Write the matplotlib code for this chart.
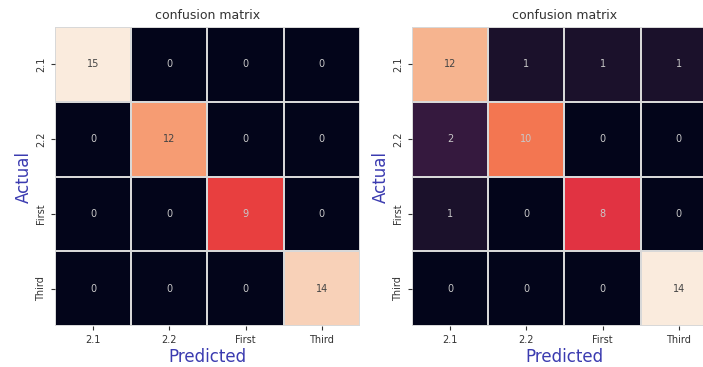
import matplotlib
matplotlib.use("Agg")
import matplotlib.pyplot as plt
import seaborn as sns
import numpy as np

labels = ["2.1", "2.2", "First", "Third"]
cm_left = np.array([[15, 0, 0, 0],
                    [0, 12, 0, 0],
                    [0, 0, 9, 0],
                    [0, 0, 0, 14]])
cm_right = np.array([[12, 1, 1, 1],
                     [2, 10, 0, 0],
                     [1, 0, 8, 0],
                     [0, 0, 0, 14]])

fig = plt.figure(figsize=(7.03, 3.67), dpi=100)
ax1 = fig.add_axes([0.0782, 0.1117, 0.4339, 0.8147])
ax2 = fig.add_axes([0.586, 0.1117, 0.4339, 0.8147])

label_color = "#3b3bb0"

for ax, cm in [(ax1, cm_left), (ax2, cm_right)]:
    sns.heatmap(cm, annot=True, fmt="d", cbar=False, ax=ax,
                linewidths=1.2, linecolor="#d8d8d8",
                xticklabels=labels, yticklabels=labels,
                annot_kws={"fontsize": 7})
    for t in ax.texts:
        if t.get_color() in ("w", "white", (1, 1, 1), (1.0, 1.0, 1.0, 1.0)):
            t.set_color("#c8c8c8")
        else:
            t.set_color("#444444")
    ax.set_title("confusion matrix", fontsize=9, color="#333333")
    ax.set_xlabel("Predicted", fontsize=12, color=label_color, labelpad=2)
    ax.set_ylabel("Actual", fontsize=12, color=label_color, labelpad=2)
    ax.tick_params(labelsize=7, colors="#333333", length=3)
    ax.set_yticklabels(labels, rotation=90, va="center")
    ax.set_xticklabels(labels, rotation=0)

fig.savefig("out.png", dpi=100)
